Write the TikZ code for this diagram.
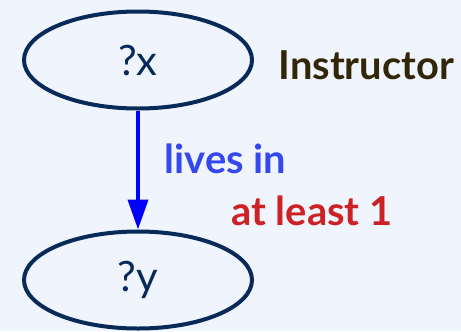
\documentclass[tikz,border=0pt]{standalone}
\usepackage{fontspec}
\setmainfont{Lato}
\usepackage{xcolor}
\usetikzlibrary{arrows.meta,positioning,shapes.geometric}

\definecolor{bgpale}{RGB}{240,245,253}
\definecolor{varnavy}{RGB}{8,42,88}
\definecolor{relblue}{RGB}{0,0,255}
\definecolor{lblblue}{RGB}{52,72,238}
\definecolor{cardred}{RGB}{204,34,38}
\definecolor{classbrown}{RGB}{50,38,8}

\begin{document}
\begin{tikzpicture}[x=1bp, y=-1bp,
    varnode/.style={ellipse, draw=varnavy, line width=4bp, minimum width=228bp, minimum height=97bp, inner sep=0pt, text=varnavy, font=\fontsize{42}{46}\selectfont},
    edgelbl/.style={font=\bfseries\fontsize{40}{44}\selectfont}]
    \useasboundingbox[fill=bgpale] (0,0) rectangle (461,331);

    \node[varnode] (x) at (138,60) {?x};
    \node[varnode] (y) at (138,280) {?y};
    \node[edgelbl, text=classbrown, anchor=west] (cls) at (275,65) {Instructor};

    \draw[-{Triangle[length=30bp, width=20bp]}, line width=4bp, relblue] (x.south) -- (y.north);
    \node[edgelbl, text=lblblue, anchor=base west] (rel) at (161,173) {lives in};
    \node[edgelbl, text=cardred, anchor=base west] (card) at (228,225) {at least 1};
\end{tikzpicture}
\end{document}
